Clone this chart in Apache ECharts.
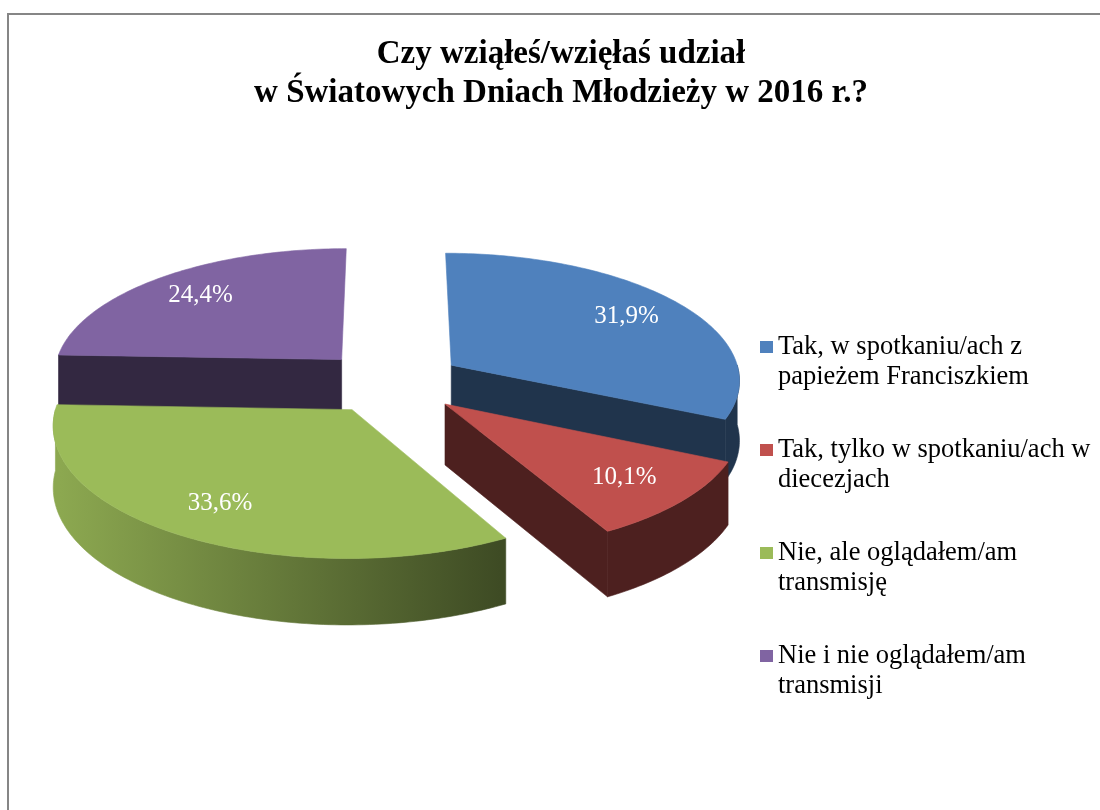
<!DOCTYPE html>
<html>
<head>
<meta charset="utf-8">
<script src="https://cdn.jsdelivr.net/npm/echarts@6/dist/echarts.min.js"></script>
<style>
  html, body { margin: 0; padding: 0; background: #fff; overflow: hidden; }
  #chart { width: 1100px; height: 810px; }
</style>
</head>
<body>
<div id="chart"></div>
<script>
// data
var titleLines = ['Czy wziąłeś/wzięłaś udział', 'w Światowych Dniach Młodzieży w 2016 r.?'];
var categories = [
  'Tak, w spotkaniu/ach z papieżem Franciszkiem',
  'Tak, tylko w spotkaniu/ach w diecezjach',
  'Nie, ale oglądałem/am transmisję',
  'Nie i nie oglądałem/am transmisji'
];
var shares = [31.9, 10.1, 33.6, 24.4];
var colors = ['#4F81BD', '#C0504D', '#9BBB59', '#8064A2'];

var total = shares.reduce(function (a, b) { return a + b; }, 0);
var startAngles = [];
var acc = 0;
shares.forEach(function (v) { startAngles.push(acc / total * 360); acc += v; });

// fake 3D view of an exploded pie
var cx = 391, cy = 382, rx = 290, ry = 127, depth = 60;
var persp = 0.105, depthPersp = 0.08, explode = 0.25;
var rad = Math.PI / 180;

function project(u, v, bottom) {
  var w = 1 - persp * v;
  var x = cx + rx * u / w;
  var y = cy + ry * v / w;
  if (bottom) y += depth / (1 - depthPersp * v);
  return [x, y];
}

function shade(hex, f) {
  var n = parseInt(hex.slice(1), 16);
  var r = Math.round(((n >> 16) & 255) * f);
  var g = Math.round(((n >> 8) & 255) * f);
  var b = Math.round((n & 255) * f);
  return 'rgb(' + r + ',' + g + ',' + b + ')';
}

function wrap(text, max) {
  var words = text.split(' '), lines = [], cur = '';
  words.forEach(function (w) {
    if (cur && (cur + ' ' + w).length > max) { lines.push(cur); cur = w; }
    else cur = cur ? cur + ' ' + w : w;
  });
  lines.push(cur);
  return lines.join('\n');
}

function makeRenderer(i) {
  return function (params, api) {
    var a0 = startAngles[i];
    var a1 = a0 + api.value(0) / total * 360;
    var mid = (a0 + a1) / 2;
    var ou = explode * Math.sin(mid * rad), ov = -explode * Math.cos(mid * rad);
    var rim = function (t, bottom) {
      return project(ou + Math.sin(t * rad), ov - Math.cos(t * rad), bottom);
    };
    var arc = function (s, e, bottom) {
      var pts = [], n = Math.max(2, Math.ceil(Math.abs(e - s)));
      for (var k = 0; k <= n; k++) pts.push(rim(s + (e - s) * k / n, bottom));
      return pts;
    };
    var apexTop = project(ou, ov, false), apexBot = project(ou, ov, true);
    var base = colors[i];
    var dark = shade(base, 0.4);
    var z = Math.round((ov + 1) * 10) * 10;
    var children = [];

    if (Math.sin(a0 * rad) < -1e-6) {
      children.push({ type: 'polygon', z2: z,
        shape: { points: [apexTop, rim(a0, false), rim(a0, true), apexBot] },
        style: { fill: dark, stroke: dark, lineWidth: 0.6 } });
    }
    if (Math.sin(a1 * rad) > 1e-6) {
      children.push({ type: 'polygon', z2: z,
        shape: { points: [apexTop, rim(a1, false), rim(a1, true), apexBot] },
        style: { fill: dark, stroke: dark, lineWidth: 0.6 } });
    }
    var s = Math.max(a0, 90), e = Math.min(a1, 270);
    if (e > s) {
      var grad = new echarts.graphic.LinearGradient(60, 0, 500, 0, [
        { offset: 0, color: shade(base, 0.9) },
        { offset: 1, color: dark }
      ], true);
      children.push({ type: 'polygon', z2: z + 1,
        shape: { points: arc(s, e, false).concat(arc(e, s, true)) },
        style: { fill: grad, stroke: grad, lineWidth: 0.6 } });
    }
    children.push({ type: 'polygon', z2: z + 2,
      shape: { points: [apexTop].concat(arc(a0, a1, false)) },
      style: { fill: base, stroke: base, lineWidth: 0.6 } });

    var lr = explode + 0.77;
    var lp = project(lr * Math.sin(mid * rad), -lr * Math.cos(mid * rad), false);
    children.push({ type: 'text', z2: 200, x: lp[0], y: lp[1],
      style: {
        text: api.value(0).toFixed(1).replace('.', ',') + '%',
        fill: '#fff', fontFamily: 'Liberation Serif', fontSize: 25,
        align: 'center', verticalAlign: 'middle'
      } });

    return { type: 'group', children: children };
  };
}

var option = {
  animation: false,
  color: colors,
  title: {
    text: titleLines.join('\n'),
    left: 556, top: 30, textAlign: 'center',
    textStyle: { fontFamily: 'Liberation Serif', fontWeight: 'bold', fontSize: 33, lineHeight: 39, color: '#000' }
  },
  legend: {
    orient: 'vertical', left: 760, top: 302, padding: 0,
    itemWidth: 13, itemHeight: 12, itemGap: 13, icon: 'rect',
    data: categories,
    formatter: function (name) { return '\n' + wrap(name, 28); },
    textStyle: { fontFamily: 'Liberation Serif', fontSize: 26.5, lineHeight: 30, color: '#000' }
  },
  graphic: [{
    type: 'rect', z: -1, silent: true,
    shape: { x: 8, y: 14, width: 1200, height: 900 },
    style: { fill: 'none', stroke: '#868686', lineWidth: 2 }
  }],
  series: categories.map(function (name, i) {
    return {
      type: 'custom', name: name, coordinateSystem: 'none',
      itemStyle: { color: colors[i] },
      data: [[shares[i]]],
      renderItem: makeRenderer(i)
    };
  })
};

var chart = echarts.init(document.getElementById('chart'));
chart.setOption(option);
</script>
</body>
</html>
